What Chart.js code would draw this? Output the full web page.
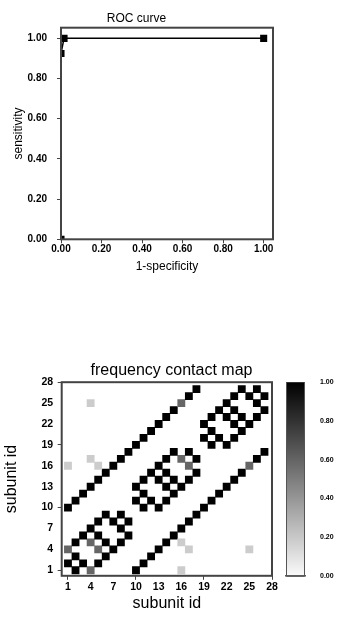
<!DOCTYPE html>
<html>
<head>
<meta charset="utf-8">
<script src="https://cdn.jsdelivr.net/npm/chart.js@4.4.1/dist/chart.umd.min.js"></script>
<style>
  body { margin: 0; background: #fff; }
  canvas { position: absolute; left: 0; }
  #roc-chart { top: 0; }
  #map-chart { top: 330px; }
</style>
</head>
<body>
<canvas id="roc-chart" width="343" height="300"></canvas>
<canvas id="map-chart" width="343" height="298"></canvas>
<script>
/** ROC curve points */
const fpr = [0, 0, 0.015, 1];
const tpr = [0, 0.925, 1, 1];
/** Tick values for both ROC axes */
const rocTicks = [0, 0.2, 0.4, 0.6, 0.8, 1];

/** Contact map: subunit pairs (upper half) and their contact frequency */
const contactA = [1, 2, 4, 5, 7, 8, 1, 2, 3, 4, 5, 6,
  10, 11, 13, 14, 16, 17, 10, 11, 12, 13, 14, 15,
  19, 20, 22, 23, 25, 26, 19, 20, 21, 22, 23, 24,
  1, 2, 3, 4, 5, 6, 7, 8, 9, 10, 11, 12, 13, 14, 15, 16, 17, 18,
  4, 1, 4, 5];
const contactB = [2, 3, 5, 6, 8, 9, 4, 5, 6, 7, 8, 9,
  11, 12, 14, 15, 17, 18, 13, 14, 15, 16, 17, 18,
  20, 21, 23, 24, 26, 27, 22, 23, 24, 25, 26, 27,
  10, 11, 12, 13, 14, 15, 16, 17, 18, 19, 20, 21, 22, 23, 24, 25, 26, 27,
  25, 16, 17, 16];
const contactFreq = [1, 1, 0.6, 1, 1, 1, 0.6, 1, 1, 1, 1, 1,
  1, 1, 1, 1, 0.6, 1, 1, 1, 1, 1, 1, 1,
  1, 1, 1, 1, 1, 1, 1, 1, 1, 1, 1, 1,
  1, 1, 1, 1, 1, 1, 1, 1, 1, 1, 1, 1, 1, 1, 1, 0.6, 1, 1,
  0.2, 0.2, 0.2, 0.2];
/** Tick labels on the subunit axes, and the ones that get a tick mark */
const subunitTicks = [1, 4, 7, 10, 13, 16, 19, 22, 25, 28];
const subunitMarks = [1, 10, 19, 28];
/** Colour bar ticks */
const freqTicks = [0, 0.2, 0.4, 0.6, 0.8, 1];

const FONT = "'Liberation Sans', Arial, sans-serif";
const FRAME = '#444';

const grayFor = (v) => {
  const g = Math.round(255 * (1 - v));
  return `rgb(${g},${g},${g})`;
};

const setTicks = (values) => (scale) => {
  scale.ticks = values.map(v => ({value: v}));
};

/** Box round the plot area */
const framePlugin = {
  id: 'frame',
  afterDatasetsDraw(chart) {
    const {ctx, chartArea: a} = chart;
    ctx.save();
    ctx.strokeStyle = FRAME;
    ctx.lineWidth = 2;
    ctx.strokeRect(a.left, a.top, a.right - a.left, a.bottom - a.top);
    ctx.restore();
  }
};

/** Gray colour bar next to the contact map */
const colorbarPlugin = {
  id: 'colorbar',
  afterDraw(chart) {
    const {ctx, chartArea} = chart;
    const cb = chart.scales.cb;
    const left = chartArea.right + 14;
    const width = 19;
    const top = cb.getPixelForValue(1);
    const bottom = cb.getPixelForValue(0);
    const grad = ctx.createLinearGradient(0, top, 0, bottom);
    grad.addColorStop(0, grayFor(1));
    grad.addColorStop(1, grayFor(0.02));
    ctx.save();
    ctx.fillStyle = grad;
    ctx.fillRect(left, top, width, bottom - top);
    ctx.strokeStyle = '#555';
    ctx.lineWidth = 1;
    ctx.beginPath();
    ctx.moveTo(left + 0.5, top);
    ctx.lineTo(left + 0.5, bottom + 0.5);
    ctx.lineTo(left + width - 0.5, bottom + 0.5);
    ctx.lineTo(left + width - 0.5, top);
    ctx.stroke();
    ctx.lineWidth = 1.5;
    ctx.beginPath();
    ctx.moveTo(left - 1, bottom);
    ctx.lineTo(left + width + 1, bottom);
    ctx.stroke();
    ctx.restore();
  }
};

const tickGrid = {
  display: true,
  drawOnChartArea: false,
  drawTicks: true,
  tickLength: 4,
  color: FRAME,
  lineWidth: 1,
};

// ROC curve
new Chart(document.getElementById('roc-chart'), {
  type: 'scatter',
  data: {
    datasets: [{
      data: fpr.map((x, i) => ({x: x, y: tpr[i]})),
      showLine: true,
      borderColor: '#000',
      borderWidth: 1.5,
      backgroundColor: '#000',
      pointStyle: 'rect',
      pointRadius: 5,
      pointBorderWidth: 0,
      clip: 0,
    }]
  },
  options: {
    responsive: false,
    animation: false,
    layout: {padding: {left: 0, right: 70, top: 0, bottom: 0}},
    scales: {
      x: {
        type: 'linear',
        min: 0,
        max: 1.046,
        afterBuildTicks: setTicks(rocTicks),
        afterFit: (scale) => { scale.height = 60.7; },
        grid: tickGrid,
        border: {display: false},
        ticks: {
          padding: 0,
          color: '#000',
          font: {family: FONT, size: 10, weight: 'bold'},
          callback: (v) => v.toFixed(2),
        },
        title: {
          display: true,
          text: '1-specificity',
          color: '#000',
          font: {family: FONT, size: 12, lineHeight: 1},
          padding: {top: 0, bottom: 27.3},
        },
      },
      y: {
        type: 'linear',
        min: 0,
        max: 1.053,
        afterBuildTicks: setTicks(rocTicks),
        afterFit: (scale) => { scale.width = 61; },
        grid: tickGrid,
        border: {display: false},
        ticks: {
          padding: 10,
          color: '#000',
          font: {family: FONT, size: 10, weight: 'bold'},
          callback: (v) => v.toFixed(2),
        },
        title: {
          display: true,
          text: 'sensitivity',
          color: '#000',
          font: {family: FONT, size: 12, lineHeight: 1},
          padding: {top: 12.3, bottom: 0},
        },
      },
    },
    plugins: {
      legend: {display: false},
      tooltip: {enabled: false},
      title: {
        display: true,
        text: 'ROC curve',
        color: '#000',
        font: {family: FONT, size: 12, weight: 'normal', lineHeight: 1.2},
        padding: {top: 11.1, bottom: 2.2},
      },
    },
  },
  plugins: [framePlugin],
});

// Frequency contact map (symmetric, so each pair is drawn both ways)
const cells = [];
contactA.forEach((a, i) => {
  cells.push({x: a, y: contactB[i], v: contactFreq[i]});
  cells.push({x: contactB[i], y: a, v: contactFreq[i]});
});

new Chart(document.getElementById('map-chart'), {
  type: 'scatter',
  data: {
    datasets: [{
      data: cells,
      pointStyle: 'rect',
      pointBorderWidth: 0,
      backgroundColor: (ctx) => grayFor(ctx.raw ? ctx.raw.v : 1),
      pointRadius: (ctx) => {
        const x = ctx.chart.scales.x;
        const side = Math.abs(x.getPixelForValue(1) - x.getPixelForValue(0)) + 0.3;
        return side / Math.SQRT2;
      },
    }]
  },
  options: {
    responsive: false,
    animation: false,
    layout: {padding: 0},
    scales: {
      x: {
        type: 'linear',
        min: 0.17,
        max: 28,
        afterBuildTicks: setTicks(subunitTicks),
        afterFit: (scale) => { scale.height = 36; },
        grid: {...tickGrid, color: (ctx) => subunitMarks.includes(ctx.tick && ctx.tick.value) ? FRAME : 'rgba(0,0,0,0)'},
        border: {display: false},
        ticks: {
          padding: 1,
          color: '#000',
          font: {family: FONT, size: 10.5, weight: 'bold'},
        },
        title: {
          display: true,
          text: 'subunit id',
          color: '#000',
          font: {family: FONT, size: 16, lineHeight: 1},
          padding: {top: 0, bottom: 0},
        },
      },
      y: {
        type: 'linear',
        min: 0.21,
        max: 28,
        afterBuildTicks: setTicks(subunitTicks),
        afterFit: (scale) => { scale.width = 61.7; },
        grid: {...tickGrid, color: (ctx) => subunitMarks.includes(ctx.tick && ctx.tick.value) ? FRAME : 'rgba(0,0,0,0)'},
        border: {display: false},
        ticks: {
          padding: 4.5,
          color: '#000',
          font: {family: FONT, size: 10.5, weight: 'bold'},
        },
        title: {
          display: true,
          text: 'subunit id',
          color: '#000',
          font: {family: FONT, size: 16, lineHeight: 1},
          padding: {top: 4, bottom: 0},
        },
      },
      cb: {
        type: 'linear',
        position: 'right',
        min: 0,
        max: 1,
        afterBuildTicks: setTicks(freqTicks),
        afterFit: (scale) => { scale.width = 71; },
        grid: {display: false, drawTicks: false},
        border: {display: false},
        ticks: {
          padding: 48,
          color: '#000',
          font: {family: FONT, size: 7, weight: 'bold'},
          callback: (v) => v.toFixed(2),
        },
      },
    },
    plugins: {
      legend: {display: false},
      tooltip: {enabled: false},
      title: {
        display: true,
        text: 'frequency contact map',
        color: '#000',
        font: {family: FONT, size: 16, weight: 'normal', lineHeight: 1.2},
        padding: {top: 28.4, bottom: 2.4},
      },
    },
  },
  plugins: [framePlugin, colorbarPlugin],
});
</script>
</body>
</html>
